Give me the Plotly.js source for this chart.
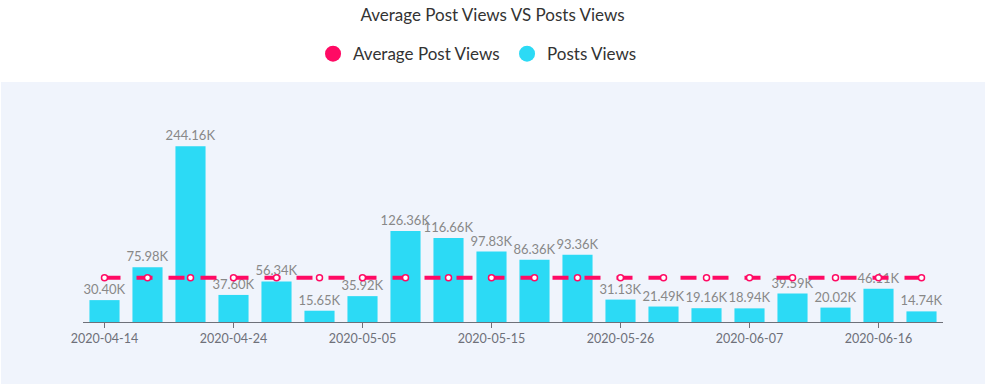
<!DOCTYPE html>
<html>
<head>
<meta charset="utf-8">
<script src="https://cdn.plot.ly/plotly-3.0.1.min.js"></script>
<style>html,body{margin:0;padding:0;background:#fff;}#chart{width:985px;height:384px;}</style>
</head>
<body>
<div id="chart"></div>
<script>
const dates = ["2020-04-14","2020-04-17","2020-04-21","2020-04-24","2020-04-28","2020-05-01","2020-05-05","2020-05-08","2020-05-12","2020-05-15","2020-05-19","2020-05-22","2020-05-26","2020-05-30","2020-06-03","2020-06-07","2020-06-10","2020-06-13","2020-06-16","2020-06-19"];
const postViews = [30400,75980,244160,37600,56340,15650,35920,126360,116660,97830,86360,93360,31130,21490,19160,18940,39590,20020,46110,14740];
const tickDates = ["2020-04-14","2020-04-24","2020-05-05","2020-05-15","2020-05-26","2020-06-07","2020-06-16"];
const avgValue = postViews.reduce((a,b)=>a+b,0)/postViews.length;
const avgViews = postViews.map(()=>avgValue);

const PINK = "#ff0a64";
const CYAN = "#2cdaf5";
const FONT = "Lato, 'Open Sans', sans-serif";

const traces = [
  {
    type: "bar", name: "Posts Views", x: dates, y: postViews,
    marker: {color: CYAN}, showlegend: false,
    text: postViews.map(v => (v/1000).toFixed(2) + "K"),
    textposition: "outside", cliponaxis: false, constraintext: "none",
    textfont: {color: "#888888", size: 13, family: FONT},
    hoverinfo: "x+y"
  },
  {
    type: "scatter", mode: "lines+markers", name: "Average Post Views",
    x: dates, y: avgViews, showlegend: false,
    line: {color: PINK, width: 4, dash: "16px,16px"},
    marker: {symbol: "circle", size: 6, color: "#ffffff", line: {color: PINK, width: 1.5}},
    cliponaxis: false
  },
  {
    type: "scatter", mode: "markers", name: "Average Post Views",
    x: [null], y: [null], marker: {color: PINK, size: 16, symbol: "circle"}, showlegend: true
  },
  {
    type: "scatter", mode: "markers", name: "Posts Views",
    x: [null], y: [null], marker: {color: CYAN, size: 16, symbol: "circle"}, showlegend: true
  }
];

const layout = {
  width: 985, height: 384,
  margin: {l: 83, r: 42, t: 106, b: 62, autoexpand: false},
  paper_bgcolor: "#ffffff",
  plot_bgcolor: "rgba(0,0,0,0)",
  font: {family: FONT, color: "#333333"},
  title: {text: "Average Post Views VS Posts Views", x: 0.5, xanchor: "center", y: 0.961, yanchor: "middle", yref: "container", font: {size: 17, color: "#333333", family: FONT}},
  showlegend: true,
  legend: {orientation: "h", xref: "container", x: 0.3178, xanchor: "left", yref: "container", y: 0.859, yanchor: "middle", font: {size: 17, color: "#333333", family: FONT}, bgcolor: "rgba(0,0,0,0)", itemwidth: 30, entrywidth: 149, traceorder: "normal"},
  bargap: 0.3,
  xaxis: {
    type: "category", categoryorder: "array", categoryarray: dates,
    range: [-0.5, 19.5], autorange: false,
    tickmode: "array", tickvals: tickDates, ticktext: tickDates,
    ticks: "outside", ticklen: 5, tickcolor: "#6e7079", tickwidth: 1,
    showline: true, linecolor: "#6e7079", linewidth: 1,
    showgrid: false, zeroline: false, tickangle: 0, automargin: false,
    tickfont: {size: 12.5, color: "#6e7079", family: FONT}
  },
  yaxis: {range: [0, 300000], visible: false, showgrid: false, zeroline: false},
  shapes: [{
    type: "rect", xref: "paper", yref: "paper", layer: "below",
    x0: -0.0953, x1: 1.05, y0: -0.3, y1: 1.111,
    fillcolor: "#f0f4fc", line: {width: 0}
  }]
};

Plotly.newPlot("chart", traces, layout, {displayModeBar: false, staticPlot: true});
</script>
</body>
</html>
